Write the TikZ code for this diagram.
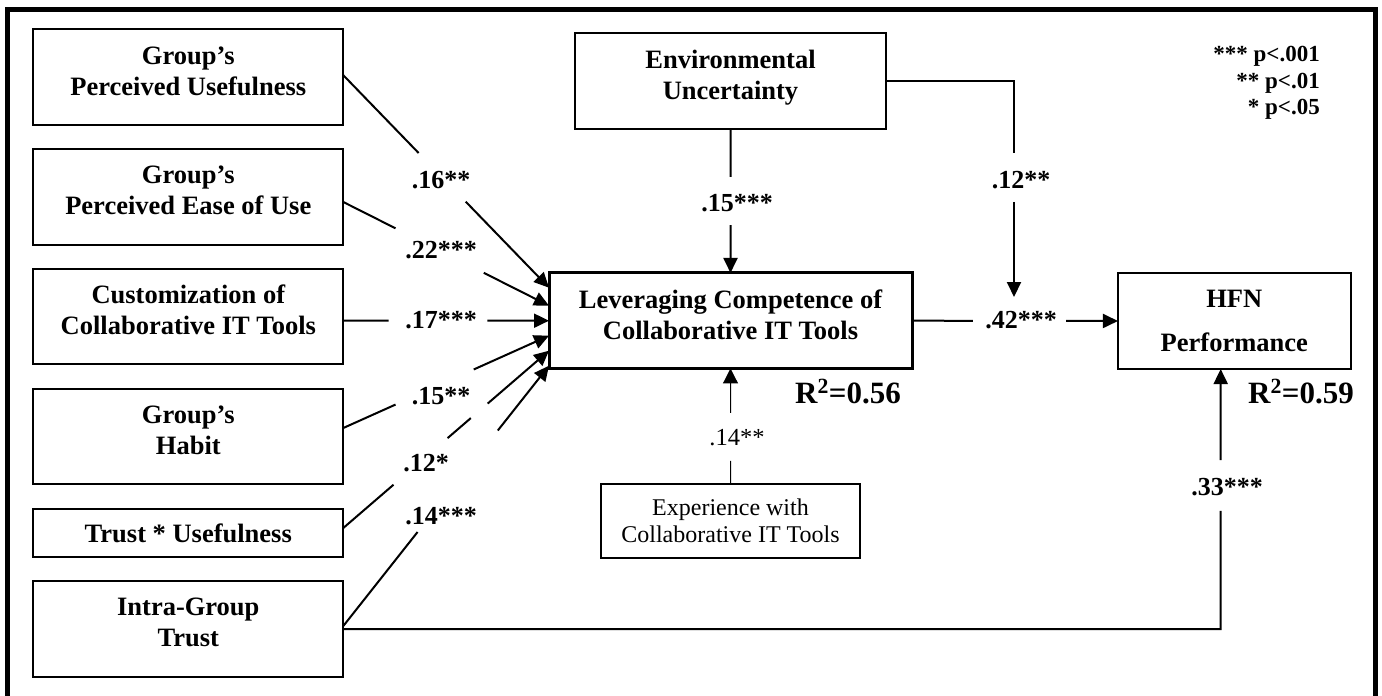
\documentclass[tikz,border=0pt]{standalone}
\usepackage{fontspec}
\setmainfont{Liberation Serif}
\usetikzlibrary{arrows.meta,calc}
\newcommand\bxfont{\fontsize{26.5}{31}\selectfont\bfseries}
\newcommand\lbfont{\fontsize{26}{30}\selectfont\bfseries}
\newcommand\dpstrut{\rule[-13pt]{0pt}{13pt}}
\tikzset{
  box/.style={draw, line width=2pt, inner sep=0pt, outer sep=0pt, align=center,
    font=\bxfont, minimum width=310pt, minimum height=96pt},
  plab/.style={font=\lbfont, inner sep=0pt},
  conn/.style={line width=2pt},
  thinconn/.style={line width=1pt},
  arr/.style={conn, -{Triangle[length=15pt,width=14pt]}},
  thinarr/.style={thinconn, -{Triangle[length=15pt,width=15pt]}},
}
\begin{document}
\begin{tikzpicture}[x=1pt, y=-1pt]
\useasboundingbox (0,0) rectangle (1382,696);
% outer frame (open at the bottom of the picture)
\draw[line width=5pt, line join=miter] (7.5,696) -- (7.5,9.5) -- (1375.5,9.5) -- (1375.5,696);

% left-hand constructs
\node[box] (pu) at (188.3,77.2) {Group’s\\Perceived Usefulness\dpstrut};
\node[box] (peou) at (188.3,197) {Group’s\\Perceived Ease of Use\dpstrut};
\node[box, minimum height=95pt] (cust) at (188.3,316.5) {Customization of\\Collaborative IT Tools\dpstrut};
\node[box, minimum height=95pt] (hab) at (188.3,436.5) {Group’s\\Habit\dpstrut};
\node[box, minimum height=48pt] (tu) at (188.3,533) {Trust * Usefulness};
\node[box] (igt) at (188.3,629) {Intra-Group\\Trust\dpstrut};

% central constructs
\node[box, minimum width=311pt] (eu) at (730.5,81) {Environmental\\Uncertainty\dpstrut};
\node[box, line width=3pt, minimum width=363pt, minimum height=95.5pt] (lc) at (730.5,320.7)
  {Leveraging Competence of\\Collaborative IT Tools\dpstrut};
\node[box, minimum width=259pt, minimum height=74pt, font=\fontsize{24}{27}\selectfont] (exp) at (730.5,521)
  {Experience with\\Collaborative IT Tools};
\node[box, minimum width=232.7pt] (hfn) at (1234.3,321) {HFN\\[13pt]Performance};

% R squared
\node[font=\fontsize{31}{36}\selectfont\bfseries, anchor=base west, inner sep=0pt] (r1) at (795,403) {R\textsuperscript{2}=0.56};
\node[font=\fontsize{31}{36}\selectfont\bfseries, anchor=base west, inner sep=0pt] (r2) at (1248,403) {R\textsuperscript{2}=0.59};

% legend
\node[font=\fontsize{23}{26.5}\selectfont\bfseries, align=right, anchor=north east, inner sep=0pt] (leg) at (1320,46.4)
  {*** p<.001\\** p<.01\\* p<.05};

% connector end points
\coordinate (s1) at ($(pu.east)+(0,-2)$);
\coordinate (s2) at ($(peou.east)+(0,5)$);
\coordinate (s3) at ($(cust.east)+(0,4.2)$);
\coordinate (s4) at ($(hab.east)+(0,-8.5)$);
\coordinate (s5) at ($(tu.east)+(0,-5)$);
\coordinate (s6) at ($(igt.east)+(0,-3)$);
\coordinate (t1) at ($(lc.west)+(0,-33)$);
\coordinate (t2) at ($(lc.west)+(0,-15)$);
\coordinate (t3) at (lc.west);
\coordinate (t4) at ($(lc.west)+(0,15)$);
\coordinate (t5) at ($(lc.west)+(0,30)$);
\coordinate (t6) at ($(lc.west)+(0,45)$);

% predictors -> leveraging competence
\draw[conn] (s1) -- ($(s1)!0.366!(t1)$);
\draw[arr] ($(s1)!0.595!(t1)$) -- (t1);
\draw[conn] (s2) -- ($(s2)!0.254!(t2)$);
\draw[arr] ($(s2)!0.683!(t2)$) -- (t2);
\draw[conn] (s3) -- ($(s3)!0.22!(t3)$);
\draw[arr] ($(s3)!0.70!(t3)$) -- (t3);
\draw[conn] (s4) -- ($(s4)!0.254!(t4)$);
\draw[arr] ($(s4)!0.634!(t4)$) -- (t4);
\draw[conn] (s5) -- ($(s5)!0.244!(t5)$);
\draw[conn] ($(s5)!0.507!(t5)$) -- ($(s5)!0.62!(t5)$);
\draw[arr] ($(s5)!0.702!(t5)$) -- (t5);
\draw[conn] (s6) -- ($(s6)!0.361!(t6)$);
\draw[arr] ($(s6)!0.751!(t6)$) -- (t6);

\node[plab] (l16) at (441,180) {.16**};
\node[plab] (l22) at (441,250) {.22***};
\node[plab] (l17) at (441,320) {.17***};
\node[plab] (l15) at (441,396) {.15**};
\node[plab] (l12) at (426,463) {.12*};
\node[plab] (l14) at (441,516) {.14***};

% environmental uncertainty -> leveraging competence
\draw[conn] (eu.south) -- ($(eu.south)!0.333!(lc.north)$);
\draw[arr] ($(eu.south)!0.667!(lc.north)$) -- (lc.north);
\node[plab] (l15b) at (737,203) {.15***};

% environmental uncertainty -> path (moderation)
\coordinate (m) at (1014,297);
\coordinate (k) at (m |- eu.east);
\draw[conn] (eu.east) -- (k) -- ($(k)!0.333!(m)$);
\draw[arr] ($(k)!0.56!(m)$) -- (m);
\node[plab] (l12b) at (1021,180) {.12**};

% leveraging competence -> HFN performance
\draw[conn] (lc.east) -- ($(lc.east)!0.296!(hfn.west)$);
\draw[arr] ($(lc.east)!0.748!(hfn.west)$) -- (hfn.west);
\node[plab] (l42) at (1021,320) {.42***};

% experience -> leveraging competence
\draw[thinconn] (exp.north) -- ($(exp.north)!0.2!(lc.south)$);
\draw[thinarr] ($(exp.north)!0.615!(lc.south)$) -- (lc.south);
\node[font=\fontsize{24.5}{28}\selectfont, inner sep=0pt] (l14b) at (737,438) {.14**};

% intra-group trust -> HFN performance
\coordinate (hb) at ($(hfn.south)+(-13.6,0)$);
\coordinate (c33) at (hb |- igt.east);
\draw[conn] (igt.east) -- (c33) -- ($(c33)!0.454!(hb)$);
\draw[arr] ($(c33)!0.65!(hb)$) -- (hb);
\node[plab] (l33) at (1227,487) {.33***};
\end{tikzpicture}
\end{document}
